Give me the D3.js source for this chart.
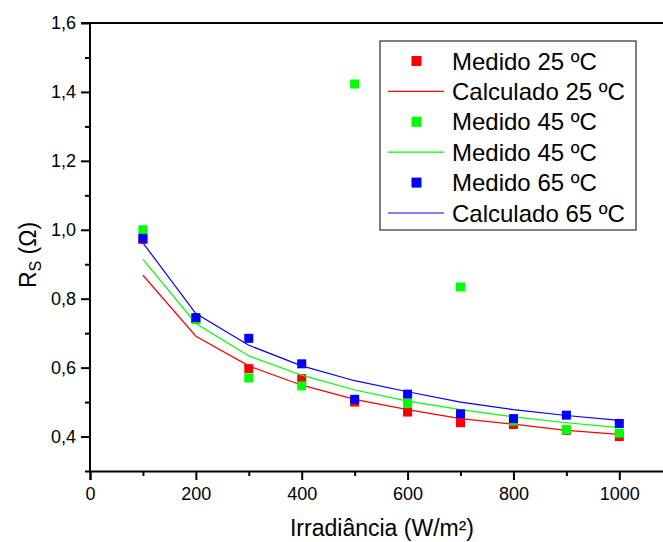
<!DOCTYPE html>
<html><head><meta charset="utf-8">
<script src="https://cdn.jsdelivr.net/npm/d3@7"></script>
<style>body{margin:0;background:#fff}svg{display:block;font-family:Arial,"Liberation Sans",sans-serif}</style>
</head><body><svg id="c" width="663" height="542"></svg>
<script>
const irradiance = [100,200,300,400,500,600,700,800,900,1000];
const med25  = [0.972,0.74,0.597,0.568,0.50,0.471,0.44,0.435,0.418,0.40];
const calc25 = [0.868,0.691,0.605,0.549,0.508,0.478,0.452,0.436,0.418,0.406];
const med45  = [1.00,0.74,0.57,0.547,1.423,0.496,0.834,0.445,0.42,0.41];
const calc45 = [0.914,0.728,0.634,0.578,0.535,0.503,0.478,0.457,0.44,0.426];
const med65  = [0.975,0.745,0.685,0.611,0.508,0.523,0.466,0.452,0.462,0.438];
const calc65 = [0.962,0.757,0.665,0.605,0.562,0.530,0.500,0.478,0.461,0.447];
const xTicks = [0,200,400,600,800,1000];
const yTicks = [0.4,0.6,0.8,1.0,1.2,1.4,1.6];
const legendLabels = ["Medido 25 ºC","Calculado 25 ºC","Medido 45 ºC","Medido 45 ºC","Medido 65 ºC","Calculado 65 ºC"];

const svg = d3.select("#c");
const L=90, T=23, B=471;
const x = d3.scaleLinear().domain([0,1100]).range([L, L+1100*0.5293]);
const y = d3.scaleLinear().domain([0.3,1.6]).range([B, T]);
const fmt = d => d3.format(".1f")(d).replace(".", ",");

// frame top line
svg.append("line").attr("x1",L).attr("x2",663).attr("y1",T).attr("y2",T).attr("stroke","#000").attr("stroke-width",2);

// minor ticks
const gx = svg.append("g").attr("transform",`translate(0,${B})`);
gx.call(d3.axisBottom(x).tickValues(d3.range(100,1100,200)).tickSize(5).tickFormat(""));
gx.call(g=>{g.selectAll(".tick line").attr("stroke-width",2);});
const gx2 = svg.append("g").attr("transform",`translate(0,${B})`)
  .call(d3.axisBottom(x).tickValues(xTicks).tickSize(9).tickPadding(7).tickFormat(d3.format("d")));
gx2.select(".domain").attr("stroke-width",2);
gx2.selectAll(".tick line").attr("stroke-width",2);
gx2.selectAll("text").attr("font-size",18).attr("fill","#000").attr("font-family","Arial, 'Liberation Sans', sans-serif");
gx.select(".domain").remove();

const gy = svg.append("g").attr("transform",`translate(${L},0)`);
gy.call(d3.axisLeft(y).tickValues([0.3,0.5,0.7,0.9,1.1,1.3,1.5]).tickSize(5).tickFormat(""));
gy.select(".domain").remove();
gy.selectAll(".tick line").attr("stroke-width",2);
const gy2 = svg.append("g").attr("transform",`translate(${L},0)`)
  .call(d3.axisLeft(y).tickValues(yTicks).tickSize(9).tickPadding(5).tickFormat(fmt));
gy2.select(".domain").attr("stroke-width",2).attr("d",`M-9,${T}H0V${B}`);
gy2.selectAll(".tick line").attr("stroke-width",2);
gy2.selectAll("text").attr("font-size",18).attr("fill","#000").attr("font-family","Arial, 'Liberation Sans', sans-serif");
svg.selectAll(".domain").attr("stroke","#000");
svg.selectAll(".tick line").attr("stroke","#000");

// series
const series = [
  {vals:med25,type:"sq",color:"#ff0000"},
  {vals:calc25,type:"ln",color:"#ff0000"},
  {vals:med45,type:"sq",color:"#00ff00"},
  {vals:calc45,type:"ln",color:"#00ff00"},
  {vals:med65,type:"sq",color:"#0000ff"},
  {vals:calc65,type:"ln",color:"#0000ff"}
];
const line = d3.line().x((d,i)=>x(irradiance[i])).y(d=>y(d));
const s=9;
series.forEach(sr=>{
  if(sr.type==="ln"){
    svg.append("path").attr("d",line(sr.vals)).attr("fill","none").attr("stroke",sr.color).attr("stroke-width",1.2);
  } else {
    svg.append("g").selectAll("rect").data(sr.vals).join("rect")
      .attr("x",(d,i)=>x(irradiance[i])-s/2).attr("y",d=>y(d)-s/2)
      .attr("width",s).attr("height",s).attr("fill",sr.color);
  }
});

// legend
const lg = svg.append("g");
lg.append("rect").attr("x",380).attr("y",41).attr("width",256).attr("height",189)
  .attr("fill","#fff").attr("stroke","#000").attr("stroke-width",1);
series.forEach((sr,i)=>{
  const cy = 61 + i*30.4;
  if(sr.type==="sq"){
    lg.append("rect").attr("x",416.5-5).attr("y",cy-5).attr("width",10).attr("height",10).attr("fill",sr.color);
  } else {
    lg.append("line").attr("x1",388).attr("x2",444).attr("y1",cy).attr("y2",cy).attr("stroke",sr.color).attr("stroke-width",1.2);
  }
  lg.append("text").attr("x",452).attr("y",cy).attr("dy","0.36em").attr("font-size",24).attr("fill","#000").text(legendLabels[i]);
});

// axis titles
svg.append("text").attr("x",382).attr("y",536).attr("text-anchor","middle").attr("font-size",23).attr("fill","#000").text("Irradiância (W/m²)");
const yt = svg.append("text").attr("transform","translate(36,255) rotate(-90)").attr("text-anchor","middle").attr("font-size",23).attr("fill","#000");
yt.append("tspan").text("R");
yt.append("tspan").attr("font-size",16).attr("dy",5).text("S");
yt.append("tspan").attr("dy",-5).text(" (Ω)");
</script></body></html>
